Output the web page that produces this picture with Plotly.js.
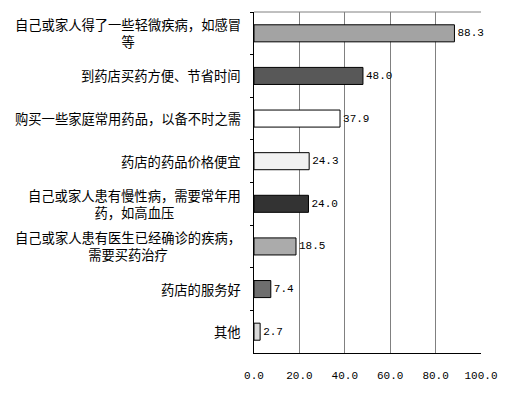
<!DOCTYPE html>
<html>
<head>
<meta charset="utf-8">
<script src="https://cdn.plot.ly/plotly-3.0.1.min.js"></script>
<style>html,body{margin:0;padding:0;background:#fff}</style>
</head>
<body>
<div id="chart" style="width:509px;height:397px"></div>
<script>
var categories = [
  "自己或家人得了一些轻微疾病，如感冒<br>等",
  "到药店买药方便、节省时间",
  "购买一些家庭常用药品，以备不时之需",
  "药店的药品价格便宜",
  "自己或家人患有慢性病，需要常年用<br>药，如高血压",
  "自己或家人患有医生已经确诊的疾病，<br>需要买药治疗",
  "药店的服务好",
  "其他"
];
var values = [88.3, 48.0, 37.9, 24.3, 24.0, 18.5, 7.4, 2.7];
var barColors = ["#a3a3a3", "#585858", "#ffffff", "#f2f2f2", "#333333", "#ababab", "#6e6e6e", "#d9d9d9"];
var xTicks = [0, 20, 40, 60, 80, 100];

var monoFont = {family: "Liberation Mono, DejaVu Sans Mono, monospace", size: 11, color: "#000"};
var cjkFont = {family: "Noto Sans CJK SC, sans-serif", size: 13.3, color: "#000"};

var trace = {
  type: "bar",
  orientation: "h",
  y: categories,
  x: values,
  width: 0.4,
  marker: {color: barColors, line: {color: "#000", width: 1}},
  texttemplate: "%{x:.1f}",
  textposition: "outside",
  constraintext: "none",
  cliponaxis: false,
  textfont: monoFont,
  hoverinfo: "none"
};

var annotations = categories.map(function (c) {
  return {
    xref: "paper", x: 0, xanchor: "right", xshift: -11,
    yref: "y", y: c, yanchor: "middle",
    text: c, align: "center", showarrow: false, font: cjkFont
  };
});

var layout = {
  width: 509, height: 397,
  margin: {l: 254, r: 28, t: 12, b: 44},
  paper_bgcolor: "#fff", plot_bgcolor: "#fff",
  showlegend: false,
  xaxis: {
    range: [0, 100],
    tickvals: xTicks,
    tickformat: ".1f",
    showgrid: true, gridcolor: "#808080", gridwidth: 1,
    zeroline: false,
    showline: true, linecolor: "#000", linewidth: 1,
    ticks: "", tickfont: monoFont,
    ticklabelstandoff: 12,
    fixedrange: true
  },
  yaxis: {
    type: "category",
    autorange: "reversed",
    showticklabels: false,
    ticks: "outside", ticklen: 3, tickcolor: "#000",
    tickson: "boundaries",
    showgrid: false, zeroline: false,
    showline: true, linecolor: "#000", linewidth: 1,
    fixedrange: true
  },
  shapes: [{
    type: "line", xref: "paper", yref: "paper",
    x0: 0, x1: 1, y0: 1, y1: 1,
    line: {color: "#808080", width: 1}
  }],
  annotations: annotations
};

Plotly.newPlot("chart", [trace], layout, {displayModeBar: false, staticPlot: true});
</script>
</body>
</html>
